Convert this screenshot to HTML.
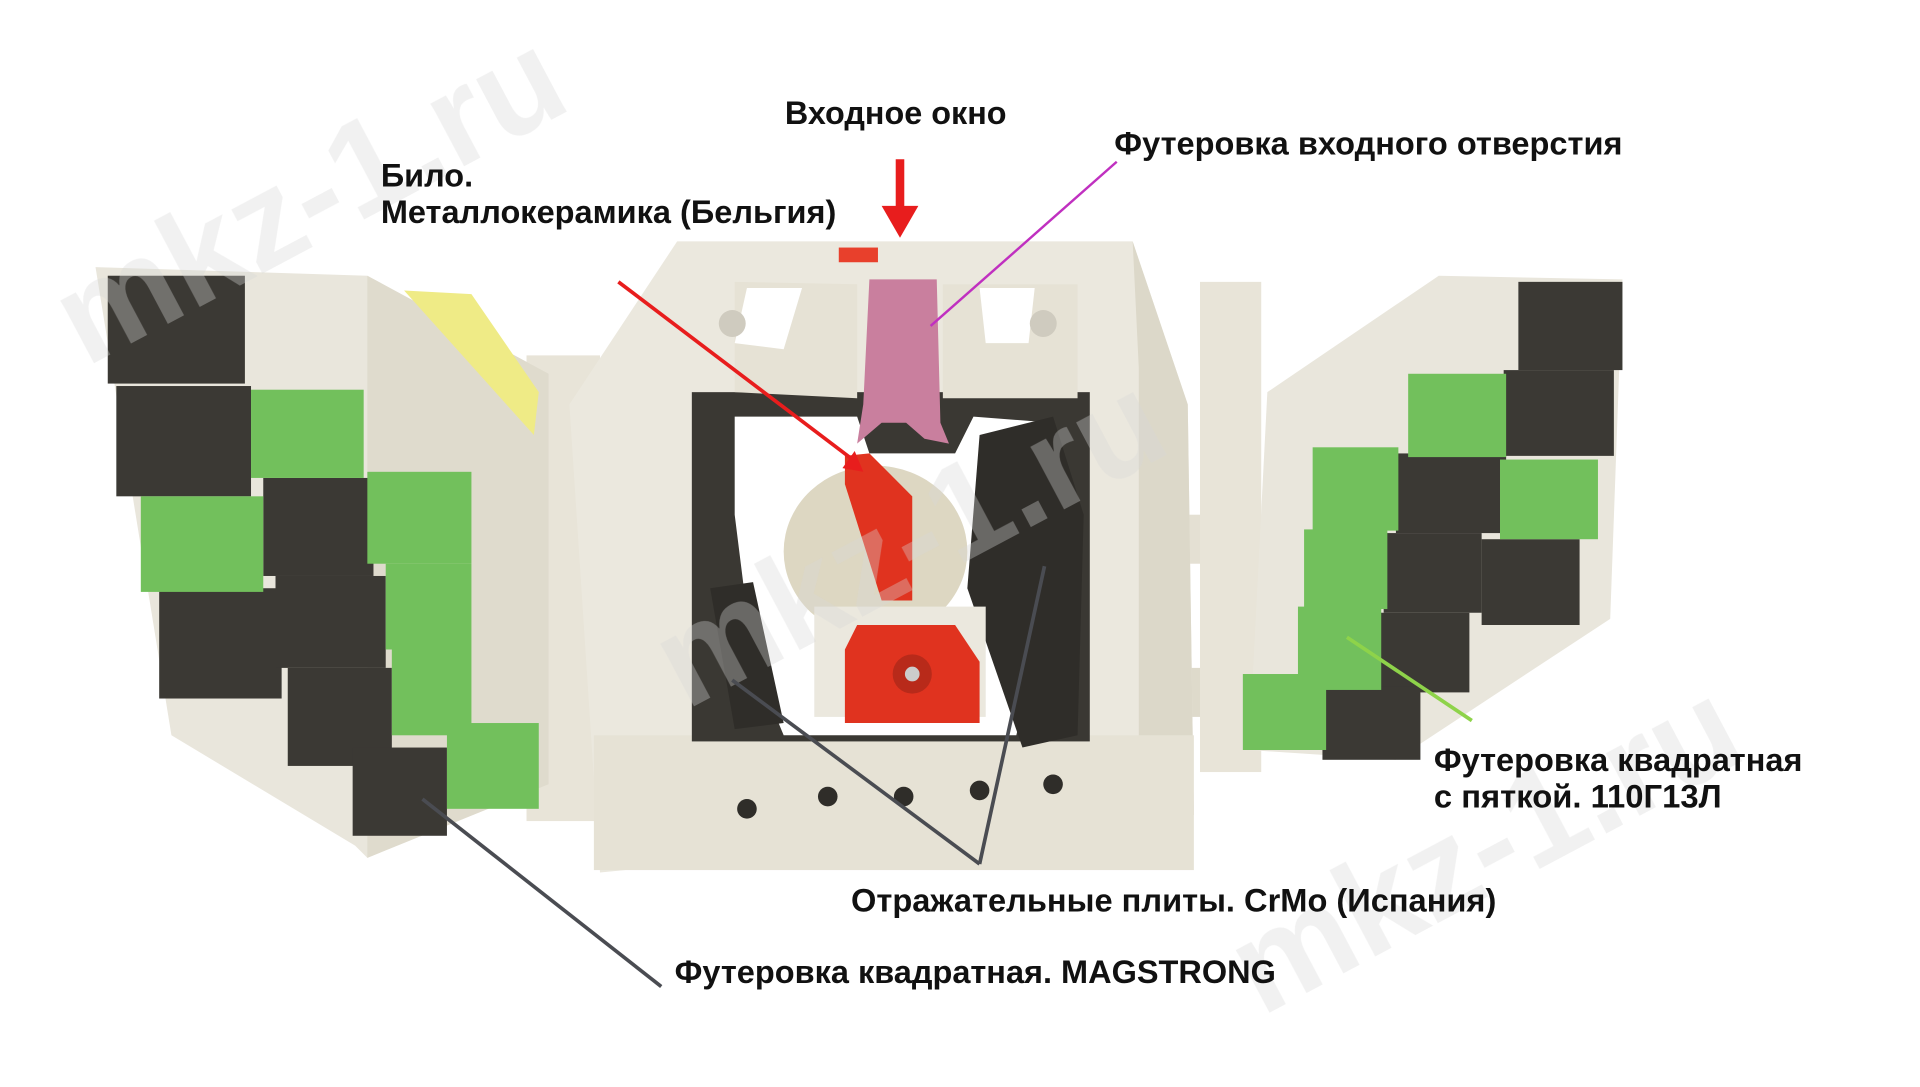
<!DOCTYPE html>
<html><head><meta charset="utf-8"><style>
html,body{margin:0;padding:0;background:#fff;}
svg{display:block}
</style></head><body>
<svg width="1920" height="1087" viewBox="0 0 1568 887" preserveAspectRatio="none" xmlns="http://www.w3.org/2000/svg">
<rect width="1568" height="887" fill="#fff"/>
<!-- side supports -->
<rect x="400" y="420" width="700" height="40" fill="#e4e0d3"/>
<rect x="400" y="545" width="700" height="40" fill="#dedacb"/>
<rect x="430" y="290" width="60" height="380" fill="#e8e4d8"/>
<rect x="980" y="230" width="50" height="400" fill="#e8e4d8"/>
<!-- left panel -->
<polygon points="78,218 300,225 448,305 448,640 300,700 290,690 140,600" fill="#e9e6dc"/>
<polygon points="300,225 448,305 448,640 300,700" fill="#dfdbcd"/>
<polygon points="330,237 385,240 440,320 436,355" fill="#efeb86"/>
<g fill="#3b3934">
<rect x="88" y="225" width="112" height="88"/><rect x="95" y="315" width="110" height="90"/>
<rect x="215" y="390" width="90" height="80"/><rect x="130" y="480" width="100" height="90"/>
<rect x="225" y="470" width="90" height="75"/><rect x="235" y="545" width="85" height="80"/>
<rect x="288" y="610" width="77" height="72"/>
</g>
<g fill="#72c05c">
<rect x="205" y="318" width="92" height="72"/><rect x="115" y="405" width="100" height="78"/>
<rect x="300" y="385" width="85" height="75"/><rect x="315" y="460" width="70" height="70"/>
<rect x="320" y="530" width="65" height="70"/><rect x="365" y="590" width="75" height="70"/>
</g>
<!-- right panel -->
<polygon points="1035,320 1175,225 1325,228 1315,505 1140,620 1020,612" fill="#e9e6dc"/>
<g fill="#3b3934">
<rect x="1240" y="230" width="85" height="72"/><rect x="1228" y="302" width="90" height="70"/>
<rect x="1140" y="370" width="90" height="65"/><rect x="1130" y="435" width="80" height="65"/>
<rect x="1210" y="440" width="80" height="70"/><rect x="1125" y="500" width="75" height="65"/>
<rect x="1080" y="560" width="80" height="60"/>
</g>
<g fill="#72c05c">
<rect x="1150" y="305" width="80" height="68"/><rect x="1225" y="375" width="80" height="65"/>
<rect x="1072" y="365" width="70" height="68"/><rect x="1065" y="432" width="68" height="65"/>
<rect x="1060" y="495" width="68" height="68"/><rect x="1015" y="550" width="68" height="62"/>
</g>
<!-- center frame -->
<polygon points="553,197 925,197 970,330 975,665 490,712 465,330" fill="#ebe8de"/>
<polygon points="925,197 970,330 975,665 930,660 930,300" fill="#dcd8c9"/>
<rect x="485" y="600" width="490" height="110" fill="#e6e2d5"/>
<rect x="565" y="320" width="325" height="285" fill="#3a3833"/>
<polygon points="600,340 700,340 710,370 780,370 795,340 860,345 860,470 830,600 640,600 615,540 600,420" fill="#fff"/>
<polygon points="600,230 700,232 700,325 600,320" fill="#e6e2d5"/>
<polygon points="770,232 880,232 880,325 770,325" fill="#e6e2d5"/>
<polygon points="610,235 655,235 640,285 600,280" fill="#fff"/>
<polygon points="800,235 845,235 840,280 805,280" fill="#fff"/>
<circle cx="598" cy="264" r="11" fill="#cfcbbf"/><circle cx="852" cy="264" r="11" fill="#cfcbbf"/>
<polygon points="710,228 765,228 768,345 775,362 755,358 740,345 720,345 700,362 705,330" fill="#c97f9e"/>
<rect x="685" y="202" width="32" height="12" fill="#e8402c"/>
<!-- right plates -->
<polygon points="800,355 860,340 885,420 880,600 835,610 790,480" fill="#2f2d29"/>
<polygon points="580,480 615,475 640,590 600,595" fill="#2f2d29"/>
<!-- rotor -->
<ellipse cx="715" cy="450" rx="75" ry="70" fill="#ddd7c2"/>
<polygon points="690,372 710,370 745,405 745,490 720,490 690,395" fill="#e0331f"/>
<rect x="665" y="495" width="140" height="90" fill="#ebe8de"/>
<polygon points="700,510 780,510 800,540 800,590 690,590 690,530" fill="#e0331f"/>
<circle cx="745" cy="550" r="16" fill="#b82a1a"/><circle cx="745" cy="550" r="6" fill="#ccc"/>
<g fill="#2f2d29"><circle cx="610" cy="660" r="8"/><circle cx="676" cy="650" r="8"/><circle cx="738" cy="650" r="8"/><circle cx="800" cy="645" r="8"/><circle cx="860" cy="640" r="8"/></g>
<!-- watermarks -->
<g fill="#d8d8d8" opacity="0.35" font-family="Liberation Sans, sans-serif" font-weight="bold" font-size="110">
<text x="70" y="300" transform="rotate(-28 70 300)">mkz-1.ru</text>
<text x="560" y="580" transform="rotate(-28 560 580)">mkz-1.ru</text>
<text x="1030" y="830" transform="rotate(-28 1030 830)">mkz-1.ru</text>
</g>
<!-- connectors -->
<line x1="735" y1="130" x2="735" y2="172" stroke="#e81d1d" stroke-width="7"/>
<polygon points="720,168 750,168 735,194" fill="#e81d1d"/>
<line x1="505" y1="230" x2="695" y2="374" stroke="#e81d1d" stroke-width="3"/>
<polygon points="705,385 688,382 698,368" fill="#e81d1d"/>
<line x1="912" y1="132" x2="760" y2="266" stroke="#c030c0" stroke-width="2"/>
<g stroke="#4a4c52" stroke-width="3">
<line x1="540" y1="805" x2="345" y2="652"/>
<line x1="800" y1="705" x2="598" y2="555"/>
<line x1="800" y1="705" x2="853" y2="462"/>
</g>
<line x1="1202" y1="588" x2="1100" y2="520" stroke="#8ed34a" stroke-width="3"/>
<!-- labels -->
<g font-family="Liberation Sans, DejaVu Sans, sans-serif" font-weight="bold" font-size="26.5" fill="#111">
<text x="641" y="101" textLength="181" lengthAdjust="spacingAndGlyphs">Входное окно</text>
<text x="910" y="126" textLength="415" lengthAdjust="spacingAndGlyphs">Футеровка входного отверстия</text>
<text x="311" y="152">Било.</text>
<text x="311" y="182" textLength="372" lengthAdjust="spacingAndGlyphs">Металлокерамика (Бельгия)</text>
<text x="1171" y="629" textLength="301" lengthAdjust="spacingAndGlyphs">Футеровка квадратная</text>
<text x="1171" y="659" textLength="235" lengthAdjust="spacingAndGlyphs">с пяткой. 110Г13Л</text>
<text x="695" y="744" textLength="527" lengthAdjust="spacingAndGlyphs">Отражательные плиты. CrMo (Испания)</text>
<text x="551" y="802" textLength="491" lengthAdjust="spacingAndGlyphs">Футеровка квадратная. MAGSTRONG</text>
</g>
</svg>
</body></html>
